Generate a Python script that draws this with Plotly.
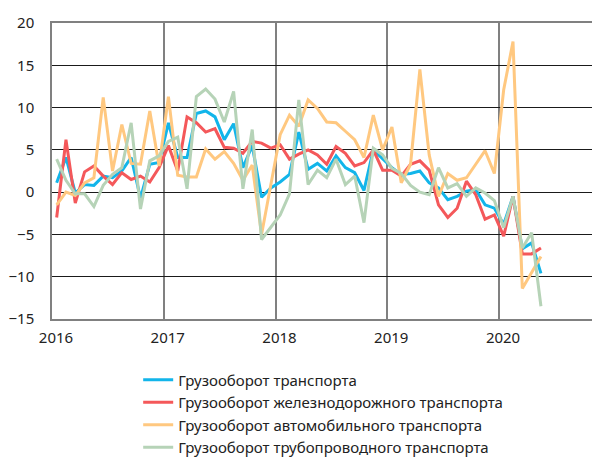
import plotly.graph_objects as go
import pandas as pd

months = pd.date_range("2016-01-01", periods=53, freq="MS")
x_vals = [d.year + (d.month - 0.5) / 12 for d in months]

names = [
    "Грузооборот транспорта",
    "Грузооборот железнодорожного транспорта",
    "Грузооборот автомобильного транспорта",
    "Грузооборот трубопроводного транспорта",
]

total = [1.1, 4.1, -0.1, 0.9, 0.8, 1.9, 1.7, 2.5, 4.1, -0.7, 3.3, 3.5,
         8.2, 4.1, 4.1, 9.3, 9.6, 8.9, 6.2, 8.1, 2.9, 5.5, -0.6, 0.5,
         1.2, 2.1, 7.1, 2.7, 3.4, 2.5, 4.3, 2.9, 2.3, 0.2, 5.0, 3.9,
         2.9, 2.1, 2.2, 2.5, 1.1, 0.5, -0.9, -0.5, 0.1, 0.3, -1.5, -1.9,
         -3.8, -0.5, -6.7, -6.0, -9.6]
rail = [-3.0, 6.2, -1.3, 2.4, 3.1, 1.9, 0.9, 2.3, 1.5, 1.9, 1.2, 2.9,
        5.5, 2.5, 8.9, 8.2, 7.1, 7.5, 5.3, 5.2, 4.6, 6.0, 5.8, 5.2,
        5.6, 3.9, 4.5, 5.0, 4.4, 3.3, 5.4, 4.6, 3.1, 3.5, 5.0, 2.6,
        2.6, 1.9, 3.3, 3.7, 2.6, -1.5, -3.0, -1.9, 1.3, -0.3, -3.2, -2.7,
        -5.2, -0.5, -7.3, -7.3, -6.6]
auto = [-1.5, 0.0, -0.4, 1.1, 1.7, 11.2, 2.5, 8.0, 3.4, 3.3, 9.6, 3.1,
        11.3, 2.0, 1.8, 1.8, 5.1, 3.9, 4.8, 3.4, 1.4, 3.2, -5.0, 0.7,
        6.8, 9.1, 7.8, 10.9, 9.9, 8.3, 8.2, 7.2, 6.2, 4.1, 9.1, 5.0,
        7.7, 1.1, 3.3, 14.5, 4.4, -0.5, 2.2, 1.4, 1.7, 3.3, 4.9, 2.2,
        12.1, 17.8, -11.4, -9.5, -7.6]
pipe = [3.9, 1.4, -0.2, -0.2, -1.7, 0.8, 2.1, 2.9, 8.2, -2.0, 3.7, 4.3,
        6.0, 6.5, 0.4, 11.3, 12.2, 11.0, 8.3, 11.9, 0.4, 7.4, -5.6, -4.2,
        -2.7, -0.2, 10.9, 0.9, 2.6, 1.7, 3.9, 0.9, 1.9, -3.6, 5.2, 4.4,
        2.8, 2.2, 0.8, 0.0, -0.3, 2.9, 0.5, 1.0, -0.5, 0.5, -0.1, -1.0,
        -4.2, -0.5, -6.6, -4.8, -13.5]

series = [total, rail, auto, pipe]
colors = ["#12B5EA", "#F4585A", "#FFC880", "#B6D3B7"]

year_ticks = [2016, 2017, 2018, 2019, 2020]
y_ticks = [20, 15, 10, 5, 0, -5, -10, -15]

fig = go.Figure()
for name, vals, col in zip(names, series, colors):
    fig.add_trace(go.Scatter(x=x_vals, y=vals, mode="lines", name=name,
                             line=dict(color=col, width=3)))

fig.update_layout(
    width=600, height=460,
    margin=dict(l=44, r=0, t=15, b=149),
    paper_bgcolor="white", plot_bgcolor="white",
    font=dict(family="Noto Sans", size=15, color="#222"),
    xaxis=dict(range=[2016, 2020.975], tickvals=year_ticks,
               ticktext=[str(v) for v in year_ticks], tickangle=0,
               showgrid=True, gridcolor="#808080", gridwidth=1.5,
               showline=True, linecolor="#808080", linewidth=1.5, mirror=True,
               zeroline=False, ticks="", tickfont=dict(size=15),
               ticklabelstandoff=4, ticklabelshift=4),
    yaxis=dict(range=[-15, 20], tickvals=y_ticks,
               showgrid=True, gridcolor="#1a1a1a", gridwidth=1,
               showline=True, linecolor="#808080", linewidth=1.5,
               zeroline=False, ticks="", tickfont=dict(size=15),
               ticklabelstandoff=13),
    legend=dict(x=0.155, y=-0.15, xanchor="left", yanchor="top",
                font=dict(size=15), tracegroupgap=0),
    showlegend=True,
)

fig.write_html("out.html")
